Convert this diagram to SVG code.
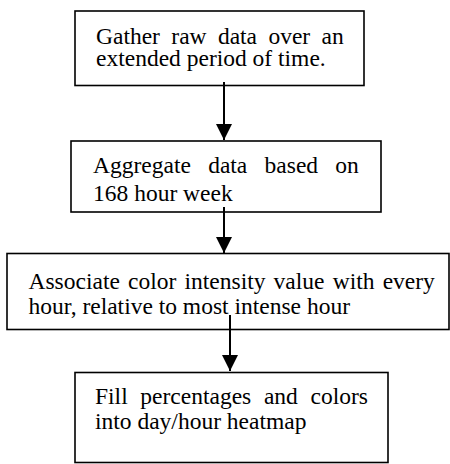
<svg xmlns="http://www.w3.org/2000/svg" width="450" height="464" viewBox="0 0 450 464">
<style>
.box{fill:#fff;stroke:#000;stroke-width:1.6}
.t{font-family:"Liberation Serif","Times New Roman",serif;font-size:23.5px;fill:#000}
.c{stroke:#000;stroke-width:2;fill:none}
</style>
<defs>
<marker id="ah" markerUnits="userSpaceOnUse" markerWidth="16" markerHeight="18" refX="16" refY="8" orient="auto">
<path d="M0,0 L16,8 L0,16 Z" fill="#000"/>
</marker>
</defs>
<rect width="450" height="464" fill="#fff"/>
<g id="n1">
<rect class="box" x="75" y="11" width="289" height="74.5"/>
<text class="t" x="96" y="43.5" word-spacing="5.5">Gather raw data over an</text>
<text class="t" x="96" y="66">extended period of time.</text>
</g>
<g id="n2">
<rect class="box" x="71" y="141" width="310" height="71"/>
<text class="t" x="93" y="173" word-spacing="11.4">Aggregate data based on</text>
<text class="t" x="93" y="201">168 hour week</text>
</g>
<g id="n3">
<rect class="box" x="7" y="253.5" width="442" height="76"/>
<text class="t" x="28.5" y="289" word-spacing="2.3">Associate color intensity value with every</text>
<text class="t" x="28.5" y="314">hour, relative to most intense hour</text>
</g>
<g id="n4">
<rect class="box" x="75" y="372.5" width="313" height="90"/>
<text class="t" x="95" y="404" word-spacing="6.8">Fill percentages and colors</text>
<text class="t" x="95" y="429">into day/hour heatmap</text>
</g>
<g id="connectors">
<line class="c" x1="224" y1="82" x2="224" y2="140" marker-end="url(#ah)"/>
<line class="c" x1="224" y1="207" x2="224" y2="253" marker-end="url(#ah)"/>
<line class="c" x1="230" y1="315" x2="230" y2="371" marker-end="url(#ah)"/>
</g>
</svg>
